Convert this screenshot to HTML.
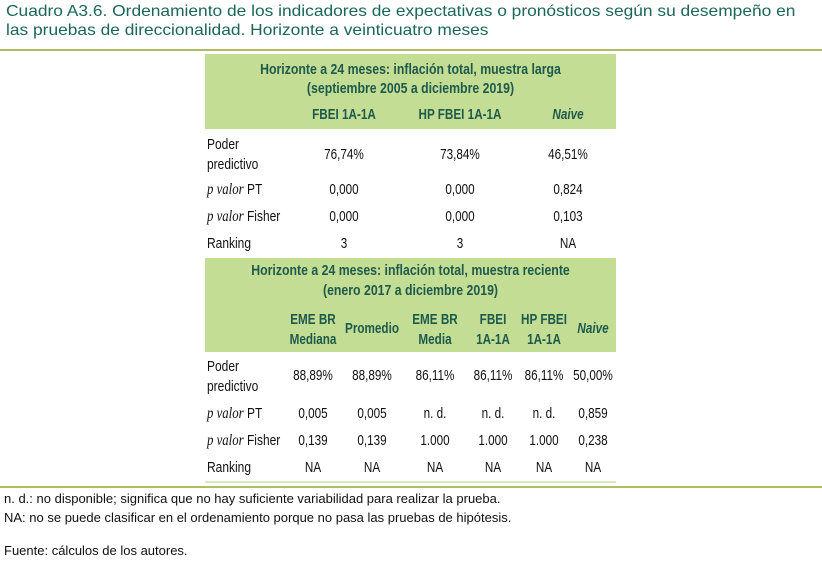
<!DOCTYPE html>
<html><head><meta charset="utf-8"><style>
body{margin:0;width:822px;height:569px;background:#fff;position:relative;overflow:hidden;font-family:"Liberation Sans",sans-serif;}
.a{position:absolute;white-space:nowrap;}
.title{left:6px;font-size:16px;color:#1b6658;transform:scaleX(1.085);transform-origin:left;}
.hl{position:absolute;height:2px;background:#aebd62;left:0;width:822px;}
.gr{position:absolute;background:#c4dd94;left:205px;width:411px;}
.c{position:absolute;width:110px;text-align:center;font-size:15px;color:#111;transform:scaleX(.78);white-space:nowrap;line-height:20px;}
.h{color:#1d5a4c;font-weight:bold;}
.l{position:absolute;left:207px;font-size:15px;color:#111;transform:scaleX(.8);transform-origin:left;white-space:nowrap;line-height:20px;}
.l i{font-family:"Liberation Serif",serif;font-size:16px;}
.ht{position:absolute;left:205px;width:411px;text-align:center;font-size:15px;font-weight:bold;color:#1d5a4c;transform:scaleX(.82);line-height:20px;}
.sep{position:absolute;left:205px;width:411px;height:2px;background:#d8e8bd;}
.fn{position:absolute;left:4px;font-size:13px;color:#111;white-space:nowrap;}
</style></head><body>
<div class="a title" style="top:3px">Cuadro A3.6. Ordenamiento de los indicadores de expectativas o pronósticos según su desempeño en</div>
<div class="a title" style="top:22px">las pruebas de direccionalidad. Horizonte a veinticuatro meses</div>
<div class="hl" style="top:49px"></div>

<div class="gr" style="top:54px;height:75px"></div>
<div class="ht" style="top:60px">Horizonte a 24 meses: inflación total, muestra larga</div>
<div class="ht" style="top:79px">(septiembre 2005 a diciembre 2019)</div>
<div class="c h" style="left:289px;top:105px">FBEI 1A-1A</div>
<div class="c h" style="left:405px;top:105px">HP FBEI 1A-1A</div>
<div class="c h" style="left:513px;top:105px"><i>Naive</i></div>

<div class="l" style="top:135px">Poder<br>predictivo</div>
<div class="c" style="left:289px;top:145px">76,74%</div>
<div class="c" style="left:405px;top:145px">73,84%</div>
<div class="c" style="left:513px;top:145px">46,51%</div>
<div class="l" style="top:180px"><i>p valor</i> PT</div>
<div class="c" style="left:289px;top:180px">0,000</div>
<div class="c" style="left:405px;top:180px">0,000</div>
<div class="c" style="left:513px;top:180px">0,824</div>
<div class="l" style="top:207px"><i>p valor</i> Fisher</div>
<div class="c" style="left:289px;top:207px">0,000</div>
<div class="c" style="left:405px;top:207px">0,000</div>
<div class="c" style="left:513px;top:207px">0,103</div>
<div class="l" style="top:234px">Ranking</div>
<div class="c" style="left:289px;top:234px">3</div>
<div class="c" style="left:405px;top:234px">3</div>
<div class="c" style="left:513px;top:234px">NA</div>

<div class="gr" style="top:258px;height:94px"></div>
<div class="ht" style="top:261px">Horizonte a 24 meses: inflación total, muestra reciente</div>
<div class="ht" style="top:281px">(enero 2017 a diciembre 2019)</div>
<div class="c h" style="left:258px;top:310px">EME BR<br>Mediana</div>
<div class="c h" style="left:317px;top:319px">Promedio</div>
<div class="c h" style="left:380px;top:310px">EME BR<br>Media</div>
<div class="c h" style="left:438px;top:310px">FBEI<br>1A-1A</div>
<div class="c h" style="left:489px;top:310px">HP FBEI<br>1A-1A</div>
<div class="c h" style="left:538px;top:319px"><i>Naive</i></div>

<div class="l" style="top:357px">Poder<br>predictivo</div>
<div class="c" style="left:258px;top:366px">88,89%</div>
<div class="c" style="left:317px;top:366px">88,89%</div>
<div class="c" style="left:380px;top:366px">86,11%</div>
<div class="c" style="left:438px;top:366px">86,11%</div>
<div class="c" style="left:489px;top:366px">86,11%</div>
<div class="c" style="left:538px;top:366px">50,00%</div>
<div class="l" style="top:404px"><i>p valor</i> PT</div>
<div class="c" style="left:258px;top:404px">0,005</div>
<div class="c" style="left:317px;top:404px">0,005</div>
<div class="c" style="left:380px;top:404px">n. d.</div>
<div class="c" style="left:438px;top:404px">n. d.</div>
<div class="c" style="left:489px;top:404px">n. d.</div>
<div class="c" style="left:538px;top:404px">0,859</div>
<div class="l" style="top:431px"><i>p valor</i> Fisher</div>
<div class="c" style="left:258px;top:431px">0,139</div>
<div class="c" style="left:317px;top:431px">0,139</div>
<div class="c" style="left:380px;top:431px">1.000</div>
<div class="c" style="left:438px;top:431px">1.000</div>
<div class="c" style="left:489px;top:431px">1.000</div>
<div class="c" style="left:538px;top:431px">0,238</div>
<div class="l" style="top:458px">Ranking</div>
<div class="c" style="left:258px;top:458px">NA</div>
<div class="c" style="left:317px;top:458px">NA</div>
<div class="c" style="left:380px;top:458px">NA</div>
<div class="c" style="left:438px;top:458px">NA</div>
<div class="c" style="left:489px;top:458px">NA</div>
<div class="c" style="left:538px;top:458px">NA</div>
<div class="sep" style="top:481px"></div>

<div class="hl" style="top:486px"></div>
<div class="fn" style="top:491px">n. d.: no disponible; significa que no hay suficiente variabilidad para realizar la prueba.</div>
<div class="fn" style="top:510px">NA: no se puede clasificar en el ordenamiento porque no pasa las pruebas de hipótesis.</div>
<div class="fn" style="top:543px">Fuente: cálculos de los autores.</div>
</body></html>
